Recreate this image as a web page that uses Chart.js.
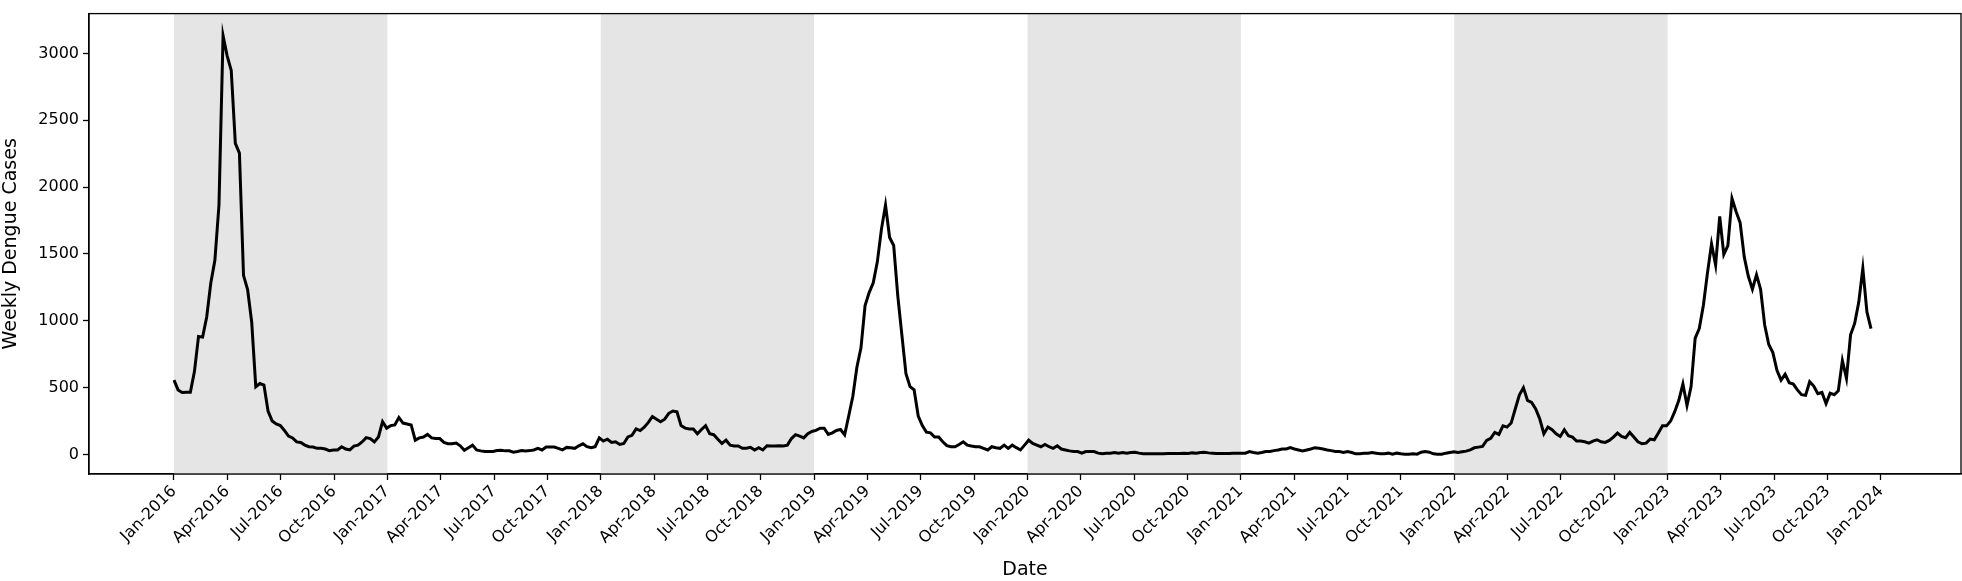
<!DOCTYPE html>
<html>
<head>
<meta charset="utf-8">
<script src="https://cdn.jsdelivr.net/npm/chart.js@4/dist/chart.umd.min.js"></script>
<style>
  html, body { margin: 0; padding: 0; background: #fff; }
  canvas { display: block; }
</style>
</head>
<body>
<canvas id="chart" width="1962" height="581"></canvas>
<script>
// weekly dengue cases, 52 weeks per year
const cases2016 = [556, 483, 464, 466, 466, 620, 883, 878, 1029, 1283, 1453, 1866, 3133, 2982, 2873, 2327, 2254, 1340, 1234, 991,
  507, 531, 519, 325, 251, 228, 216, 180, 138, 124, 94, 90, 70, 58, 56, 46, 46, 41, 29, 34,
  34, 58, 41, 34, 63, 70, 94, 126, 119, 94, 131, 245];
const cases2017 = [197, 216, 221, 277, 235, 228, 221, 107, 124, 131, 150, 124, 119, 119, 90, 80, 80, 85, 65, 31,
  51, 70, 34, 27, 22, 22, 22, 29, 31, 27, 27, 17, 22, 29, 27, 29, 34, 46, 34, 56,
  56, 56, 46, 34, 53, 51, 46, 65, 80, 58, 51, 58];
const cases2018 = [124, 100, 114, 90, 95, 75, 82, 131, 143, 191, 179, 204, 240, 284, 264, 245, 264, 308, 325, 320,
  216, 197, 191, 191, 155, 187, 216, 155, 148, 114, 82, 107, 70, 63, 63, 46, 46, 53, 34, 51,
  34, 65, 63, 63, 65, 63, 70, 119, 148, 138, 124, 155];
const cases2019 = [172, 180, 196, 196, 150, 162, 180, 187, 148, 288, 434, 653, 798, 1114, 1211, 1284, 1441, 1684, 1866, 1623,
  1563, 1187, 895, 604, 507, 483, 288, 216, 167, 162, 131, 131, 95, 66, 58, 58, 75, 95, 70, 63,
  58, 58, 46, 34, 58, 51, 46, 70, 46, 70, 51, 34];
const cases2020 = [70, 107, 82, 70, 58, 75, 58, 46, 65, 41, 34, 27, 22, 22, 10, 22, 22, 22, 10, 5,
  10, 10, 15, 10, 15, 10, 15, 17, 10, 5, 5, 5, 5, 5, 5, 7, 8, 8, 8, 10,
  8, 12, 10, 15, 17, 12, 10, 8, 8, 8, 8, 10];
const cases2021 = [10, 10, 10, 22, 15, 10, 15, 22, 22, 29, 34, 41, 41, 51, 41, 34, 27, 34, 41, 51,
  46, 41, 34, 29, 22, 22, 15, 22, 15, 5, 5, 10, 10, 15, 10, 5, 5, 10, 2, 10,
  5, 2, 2, 5, 2, 17, 22, 17, 5, 2, 2, 10];
const cases2022 = [15, 20, 15, 20, 25, 35, 50, 55, 60, 105, 120, 165, 150, 215, 205, 235, 340, 445, 500, 405,
  390, 340, 265, 155, 205, 185, 155, 135, 185, 140, 130, 100, 100, 95, 85, 100, 110, 95, 90, 105,
  130, 160, 135, 125, 165, 130, 95, 80, 85, 115, 110, 160];
const cases2023 = [214, 214, 250, 320, 405, 527, 367, 508, 870, 942, 1114, 1357, 1575, 1417, 1781, 1497, 1563, 1915, 1818, 1733,
  1478, 1333, 1236, 1345, 1236, 969, 823, 762, 629, 556, 600, 537, 527, 483, 447, 442, 544, 512, 454, 464,
  381, 459, 447, 476, 702, 569, 895, 980, 1138, 1393, 1066, 942];

const weeklyCases = [cases2016, cases2017, cases2018, cases2019, cases2020, cases2021, cases2022, cases2023].flat();
const monthNames = ['Jan', 'Apr', 'Jul', 'Oct'];
const yTicks = [0, 500, 1000, 1500, 2000, 2500, 3000];
const shadedYears = [2016, 2018, 2020, 2022];

// x is in months since Jan 2016
const points = weeklyCases.map((v, i) => ({ x: i * 12 / 52.18, y: v }));

const shading = {
  id: 'shading',
  beforeDatasetsDraw(chart) {
    const { ctx, chartArea, scales: { x } } = chart;
    ctx.save();
    ctx.fillStyle = '#e5e5e5';
    shadedYears.forEach(yr => {
      const a = x.getPixelForValue((yr - 2016) * 12);
      const b = x.getPixelForValue((yr - 2015) * 12);
      ctx.fillRect(a, chartArea.top, b - a, chartArea.bottom - chartArea.top);
    });
    ctx.restore();
  },
  afterDraw(chart) {
    const { ctx, chartArea } = chart;
    ctx.save();
    ctx.strokeStyle = '#000';
    ctx.lineWidth = 1.3;
    ctx.strokeRect(chartArea.left, chartArea.top, chartArea.right - chartArea.left, chartArea.bottom - chartArea.top);
    ctx.restore();
  }
};

new Chart(document.getElementById('chart'), {
  type: 'line',
  data: {
    datasets: [{
      data: points,
      borderColor: '#000',
      borderWidth: 3,
      pointRadius: 0,
      tension: 0,
      fill: false
    }]
  },
  options: {
    responsive: false,
    animation: false,
    devicePixelRatio: 1,
    layout: { padding: { top: -9, right: 1, left: 0, bottom: 0 } },
    plugins: { legend: { display: false }, tooltip: { enabled: false } },
    scales: {
      x: {
        type: 'linear',
        min: -4.78,
        max: 100.5,
        afterBuildTicks(scale) {
          const t = [];
          for (let m = 0; m <= 96; m += 3) t.push({ value: m });
          scale.ticks = t;
        },
        afterFit(scale) { scale.height = 107; },
        ticks: {
          color: '#000',
          font: { family: 'DejaVu Sans', size: 16 },
          maxRotation: 45,
          minRotation: 45,
          autoSkip: false,
          padding: 2,
          callback: v => `${monthNames[(v / 3) % 4]}-${2016 + Math.floor(v / 12)}`
        },
        grid: { drawOnChartArea: false, color: '#000', tickLength: 6, tickWidth: 1.3 },
        border: { color: '#000', width: 1.3 },
        title: { display: true, text: 'Date', color: '#000', font: { family: 'DejaVu Sans', size: 19 }, padding: { top: 0, bottom: 0 } }
      },
      y: {
        min: -146,
        max: 3298,
        afterBuildTicks(scale) {
          scale.ticks = yTicks.map(v => ({ value: v }));
        },
        afterFit(scale) { scale.width = 89; },
        ticks: { color: '#000', font: { family: 'DejaVu Sans', size: 16 }, padding: 4, callback: v => String(v) },
        grid: { drawOnChartArea: false, color: '#000', tickLength: 6, tickWidth: 1.3 },
        border: { color: '#000', width: 1.3 },
        title: { display: true, text: 'Weekly Dengue Cases', color: '#000', font: { family: 'DejaVu Sans', size: 19 }, padding: { top: 0, bottom: 2 } }
      }
    }
  },
  plugins: [shading]
});
</script>
</body>
</html>
